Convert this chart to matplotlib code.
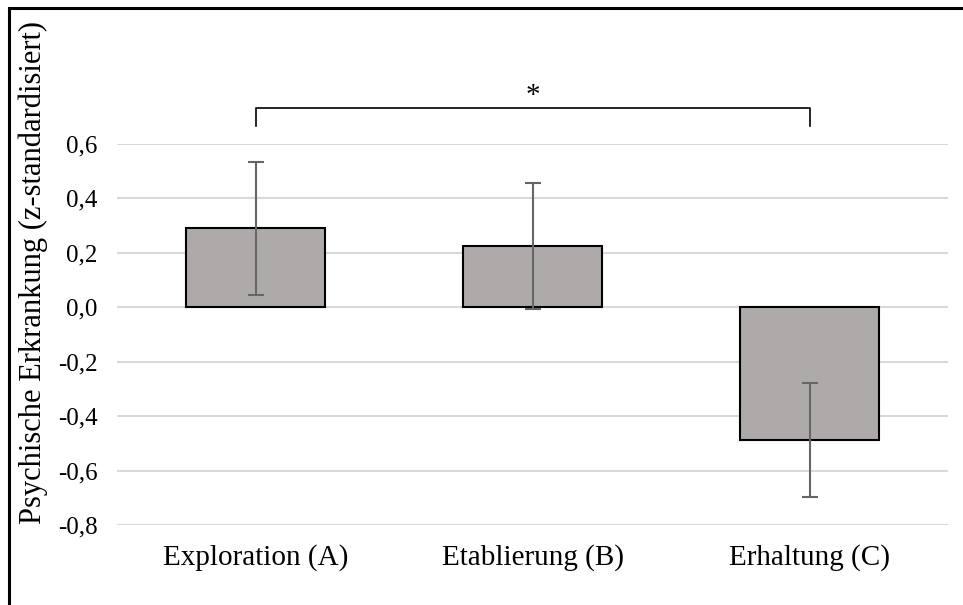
import matplotlib
matplotlib.use("Agg")
import matplotlib.pyplot as plt
from matplotlib.patches import Rectangle

plt.rcParams['font.family'] = ['Liberation Serif', 'DejaVu Serif']

categories = ["Exploration (A)", "Etablierung (B)", "Erhaltung (C)"]
means = [0.29, 0.225, -0.488]
errors = [0.245, 0.23, 0.208]
yticks = [-0.8, -0.6, -0.4, -0.2, 0.0, 0.2, 0.4, 0.6]
ytick_labels = ["-0,8", "-0,6", "-0,4", "-0,2", "0,0", "0,2", "0,4", "0,6"]
bracket_y = 0.731
bracket_drop = 0.065
star_label = "*"

fig = plt.figure(figsize=(9.63, 6.05), dpi=100)
W, H = 963, 605
ax = fig.add_axes([117 / W, 1 - 525 / H, (948 - 117) / W, (525 - 144) / H])

x = list(range(len(categories)))
ax.bar(x, means, width=0.5, color="#AEAAAA", edgecolor="black", linewidth=1.5, zorder=3)
ax.errorbar(x, means, yerr=errors, fmt="none", ecolor="#666666", elinewidth=1.5,
            capsize=6, capthick=1.5, zorder=4)

ax.set_xlim(-0.5, 2.5)
ax.set_ylim(-0.8, 0.6)
ax.set_yticks(yticks)
ax.set_yticklabels(ytick_labels, fontsize=18)
ax.set_xticks(x)
ax.set_xticklabels(categories, fontsize=21)
ax.tick_params(axis="both", length=0)
ax.tick_params(axis="y", pad=14)
ax.tick_params(axis="x", pad=14)
ax.grid(axis="y", color="#D9D9D9", linewidth=1.5, zorder=0)
for s in ax.spines.values():
    s.set_visible(False)

# axis title sits higher than the plot centre
fig.text(33 / W, 1 - 272 / H, "Psychische Erkrankung (z-standardisiert)", rotation=90,
         ha="center", va="center", fontsize=22)

# significance bracket between A and C
ax.plot([0, 0, 2, 2], [bracket_y - bracket_drop, bracket_y, bracket_y, bracket_y - bracket_drop],
        color="black", linewidth=1.2, clip_on=False)
ax.text(1, 0.775, star_label, ha="center", va="center", fontsize=21)

# outer frame
fig.patches.append(Rectangle((9 / W, -0.05), 1.1, 1 - 8 / H + 0.05, transform=fig.transFigure,
                             fill=False, edgecolor="black", linewidth=2.2))

fig.savefig("out.png", dpi=100)
